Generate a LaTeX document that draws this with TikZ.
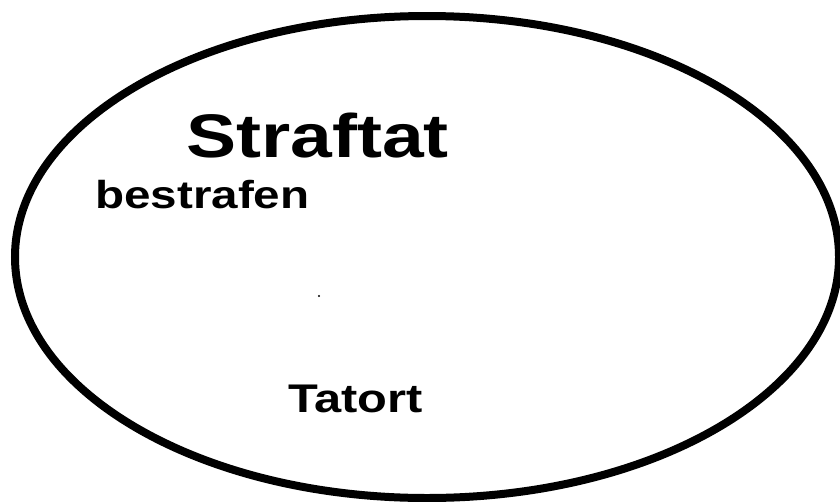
\documentclass[tikz,border=0pt]{standalone}
\usepackage{fontspec}
\setmainfont{Liberation Sans}
\usetikzlibrary{shapes.geometric}

\begin{document}
\begin{tikzpicture}[
  x=1pt, y=-1pt,
  ring/.style={draw=black, ellipse, line width=8pt, inner sep=0pt,
               minimum width=824pt, minimum height=482pt},
  word/.style={anchor=base west, inner sep=0pt, xscale=1.22,
               font=\bfseries\fontsize{#1}{#1}\selectfont},
]
  \useasboundingbox (0,0) rectangle (840,501);

  % --- the outline ------------------------------------------------
  \node[ring] (feld) at (427,257) {};

  % --- words inside -----------------------------------------------
  \node[word=61.5] (straftat)  at (186,157) {Straftat};
  \node[word=39]   (bestrafen) at (95,208)  {bestrafen};
  \node[word=40]   (tatort)    at (288,412) {Tatort};

  % stray speck
  \fill (319,296) circle (1.2);
\end{tikzpicture}
\end{document}
